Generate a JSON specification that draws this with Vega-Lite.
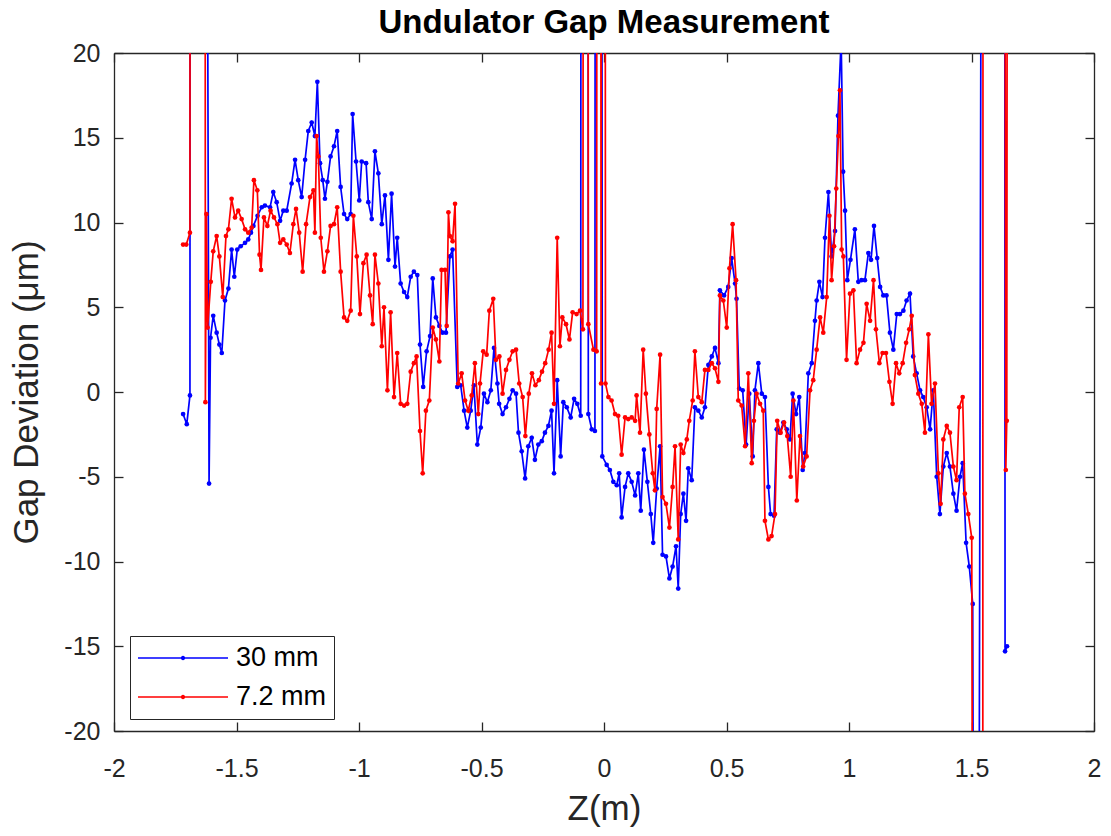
{
"$schema": "https://vega.github.io/schema/vega-lite/v6.json",
"width": 980, "height": 678,
"autosize": "none",
"padding": {"left": 114, "top": 53, "right": 17, "bottom": 105},
"background": "white",
"title": {"text": "Undulator Gap Measurement", "font": "Liberation Sans", "fontSize": 33, "fontWeight": "bold", "color": "#000000", "anchor": "middle", "offset": 1},
"config": {
  "view": {"stroke": null},
  "axis": {"grid": false, "domainColor": "#262626", "domainWidth": 1.3, "tickColor": "#262626", "tickWidth": 1.3, "tickSize": -9,
    "labelFont": "Liberation Sans", "labelFontSize": 25, "labelColor": "#262626", "titleFont": "Liberation Sans", "titleFontSize": 35, "titleFontWeight": "normal", "titleColor": "#262626"}
},
"data": {"values": [
{"s":"30 mm","z":-1.718,"g":-1.3},{"s":"30 mm","z":-1.703,"g":-1.9},{"s":"30 mm","z":-1.690,"g":-0.2},{"s":"30 mm","z":-1.688,"g":100},{"s":"30 mm","z":-1.633,"g":100},{"s":"30 mm","z":-1.612,"g":-5.4},{"s":"30 mm","z":-1.606,"g":3.2},{"s":"30 mm","z":-1.595,"g":4.5},{"s":"30 mm","z":-1.581,"g":3.5},{"s":"30 mm","z":-1.570,"g":2.8},{"s":"30 mm","z":-1.560,"g":2.3},{"s":"30 mm","z":-1.547,"g":5.4},{"s":"30 mm","z":-1.533,"g":6.1},{"s":"30 mm","z":-1.520,"g":8.4},{"s":"30 mm","z":-1.509,"g":6.8},{"s":"30 mm","z":-1.497,"g":8.4},{"s":"30 mm","z":-1.483,"g":8.6},{"s":"30 mm","z":-1.465,"g":8.8},{"s":"30 mm","z":-1.452,"g":9.0},{"s":"30 mm","z":-1.441,"g":9.4},{"s":"30 mm","z":-1.431,"g":9.8},{"s":"30 mm","z":-1.414,"g":10.4},{"s":"30 mm","z":-1.397,"g":10.9},{"s":"30 mm","z":-1.384,"g":11.0},{"s":"30 mm","z":-1.363,"g":10.9},{"s":"30 mm","z":-1.350,"g":11.8},{"s":"30 mm","z":-1.336,"g":11.2},{"s":"30 mm","z":-1.322,"g":10.1},{"s":"30 mm","z":-1.309,"g":10.7},{"s":"30 mm","z":-1.295,"g":10.7},{"s":"30 mm","z":-1.275,"g":12.3},{"s":"30 mm","z":-1.261,"g":13.7},{"s":"30 mm","z":-1.248,"g":12.5},{"s":"30 mm","z":-1.234,"g":11.5},{"s":"30 mm","z":-1.220,"g":13.7},{"s":"30 mm","z":-1.207,"g":15.4},{"s":"30 mm","z":-1.193,"g":15.9},{"s":"30 mm","z":-1.180,"g":15.1},{"s":"30 mm","z":-1.170,"g":18.3},{"s":"30 mm","z":-1.159,"g":13.5},{"s":"30 mm","z":-1.148,"g":12.5},{"s":"30 mm","z":-1.139,"g":11.4},{"s":"30 mm","z":-1.129,"g":12.4},{"s":"30 mm","z":-1.116,"g":13.9},{"s":"30 mm","z":-1.102,"g":14.5},{"s":"30 mm","z":-1.089,"g":15.4},{"s":"30 mm","z":-1.075,"g":12.1},{"s":"30 mm","z":-1.061,"g":10.5},{"s":"30 mm","z":-1.048,"g":10.2},{"s":"30 mm","z":-1.034,"g":10.5},{"s":"30 mm","z":-1.026,"g":16.4},{"s":"30 mm","z":-1.012,"g":13.6},{"s":"30 mm","z":-0.999,"g":11.3},{"s":"30 mm","z":-0.989,"g":13.6},{"s":"30 mm","z":-0.971,"g":13.5},{"s":"30 mm","z":-0.962,"g":11.2},{"s":"30 mm","z":-0.948,"g":10.2},{"s":"30 mm","z":-0.935,"g":14.2},{"s":"30 mm","z":-0.921,"g":12.9},{"s":"30 mm","z":-0.907,"g":9.9},{"s":"30 mm","z":-0.894,"g":11.6},{"s":"30 mm","z":-0.880,"g":7.8},{"s":"30 mm","z":-0.867,"g":11.7},{"s":"30 mm","z":-0.853,"g":7.4},{"s":"30 mm","z":-0.844,"g":9.1},{"s":"30 mm","z":-0.830,"g":6.4},{"s":"30 mm","z":-0.816,"g":5.9},{"s":"30 mm","z":-0.803,"g":5.6},{"s":"30 mm","z":-0.789,"g":6.8},{"s":"30 mm","z":-0.776,"g":7.1},{"s":"30 mm","z":-0.762,"g":6.9},{"s":"30 mm","z":-0.751,"g":2.8},{"s":"30 mm","z":-0.738,"g":0.3},{"s":"30 mm","z":-0.724,"g":2.4},{"s":"30 mm","z":-0.710,"g":3.3},{"s":"30 mm","z":-0.699,"g":6.7},{"s":"30 mm","z":-0.686,"g":4.4},{"s":"30 mm","z":-0.672,"g":3.9},{"s":"30 mm","z":-0.659,"g":3.5},{"s":"30 mm","z":-0.645,"g":3.5},{"s":"30 mm","z":-0.629,"g":8.0},{"s":"30 mm","z":-0.618,"g":8.4},{"s":"30 mm","z":-0.599,"g":0.3},{"s":"30 mm","z":-0.585,"g":0.4},{"s":"30 mm","z":-0.571,"g":-1.1},{"s":"30 mm","z":-0.558,"g":-2.1},{"s":"30 mm","z":-0.544,"g":-1.1},{"s":"30 mm","z":-0.531,"g":0.4},{"s":"30 mm","z":-0.517,"g":-3.1},{"s":"30 mm","z":-0.503,"g":-2.1},{"s":"30 mm","z":-0.490,"g":-0.1},{"s":"30 mm","z":-0.476,"g":-0.6},{"s":"30 mm","z":-0.462,"g":0.1},{"s":"30 mm","z":-0.449,"g":2.6},{"s":"30 mm","z":-0.435,"g":0.5},{"s":"30 mm","z":-0.428,"g":-0.7},{"s":"30 mm","z":-0.414,"g":-1.3},{"s":"30 mm","z":-0.400,"g":-0.9},{"s":"30 mm","z":-0.386,"g":-0.4},{"s":"30 mm","z":-0.373,"g":0.1},{"s":"30 mm","z":-0.359,"g":-0.1},{"s":"30 mm","z":-0.349,"g":-2.4},{"s":"30 mm","z":-0.336,"g":-3.5},{"s":"30 mm","z":-0.322,"g":-5.1},{"s":"30 mm","z":-0.309,"g":-3.2},{"s":"30 mm","z":-0.295,"g":-2.7},{"s":"30 mm","z":-0.282,"g":-4.0},{"s":"30 mm","z":-0.268,"g":-3.1},{"s":"30 mm","z":-0.254,"g":-2.9},{"s":"30 mm","z":-0.241,"g":-2.4},{"s":"30 mm","z":-0.227,"g":-2.0},{"s":"30 mm","z":-0.214,"g":-1.1},{"s":"30 mm","z":-0.204,"g":-4.8},{"s":"30 mm","z":-0.191,"g":0.7},{"s":"30 mm","z":-0.177,"g":-3.8},{"s":"30 mm","z":-0.166,"g":-0.6},{"s":"30 mm","z":-0.152,"g":-0.9},{"s":"30 mm","z":-0.136,"g":-1.5},{"s":"30 mm","z":-0.122,"g":-0.4},{"s":"30 mm","z":-0.109,"g":-0.7},{"s":"30 mm","z":-0.095,"g":-1.4},{"s":"30 mm","z":-0.092,"g":100},{"s":"30 mm","z":-0.067,"g":100},{"s":"30 mm","z":-0.064,"g":-1.3},{"s":"30 mm","z":-0.050,"g":-2.2},{"s":"30 mm","z":-0.037,"g":-2.3},{"s":"30 mm","z":-0.034,"g":100},{"s":"30 mm","z":-0.012,"g":100},{"s":"30 mm","z":-0.007,"g":-3.8},{"s":"30 mm","z":0.011,"g":-4.3},{"s":"30 mm","z":0.024,"g":-4.6},{"s":"30 mm","z":0.038,"g":-5.3},{"s":"30 mm","z":0.052,"g":-5.5},{"s":"30 mm","z":0.062,"g":-4.8},{"s":"30 mm","z":0.072,"g":-7.4},{"s":"30 mm","z":0.086,"g":-5.6},{"s":"30 mm","z":0.099,"g":-4.8},{"s":"30 mm","z":0.113,"g":-5.3},{"s":"30 mm","z":0.127,"g":-6.1},{"s":"30 mm","z":0.140,"g":-4.8},{"s":"30 mm","z":0.150,"g":-7.0},{"s":"30 mm","z":0.163,"g":-3.4},{"s":"30 mm","z":0.177,"g":-5.3},{"s":"30 mm","z":0.191,"g":-7.2},{"s":"30 mm","z":0.201,"g":-8.9},{"s":"30 mm","z":0.215,"g":-5.7},{"s":"30 mm","z":0.229,"g":-3.2},{"s":"30 mm","z":0.239,"g":-9.6},{"s":"30 mm","z":0.253,"g":-9.7},{"s":"30 mm","z":0.267,"g":-11.0},{"s":"30 mm","z":0.280,"g":-10.3},{"s":"30 mm","z":0.294,"g":-9.1},{"s":"30 mm","z":0.303,"g":-11.6},{"s":"30 mm","z":0.313,"g":-7.2},{"s":"30 mm","z":0.324,"g":-6.0},{"s":"30 mm","z":0.335,"g":-7.6},{"s":"30 mm","z":0.344,"g":-4.5},{"s":"30 mm","z":0.358,"g":-5.2},{"s":"30 mm","z":0.371,"g":-0.9},{"s":"30 mm","z":0.385,"g":-1.1},{"s":"30 mm","z":0.399,"g":-1.5},{"s":"30 mm","z":0.412,"g":-0.9},{"s":"30 mm","z":0.426,"g":1.6},{"s":"30 mm","z":0.440,"g":2.1},{"s":"30 mm","z":0.453,"g":2.6},{"s":"30 mm","z":0.467,"g":1.7},{"s":"30 mm","z":0.473,"g":6.0},{"s":"30 mm","z":0.490,"g":5.7},{"s":"30 mm","z":0.507,"g":6.2},{"s":"30 mm","z":0.521,"g":7.9},{"s":"30 mm","z":0.535,"g":6.4},{"s":"30 mm","z":0.541,"g":5.5},{"s":"30 mm","z":0.552,"g":0.2},{"s":"30 mm","z":0.566,"g":0.1},{"s":"30 mm","z":0.580,"g":-3.1},{"s":"30 mm","z":0.593,"g":-0.1},{"s":"30 mm","z":0.607,"g":-3.8},{"s":"30 mm","z":0.616,"g":0.1},{"s":"30 mm","z":0.630,"g":1.7},{"s":"30 mm","z":0.644,"g":-0.1},{"s":"30 mm","z":0.657,"g":-0.3},{"s":"30 mm","z":0.671,"g":-5.6},{"s":"30 mm","z":0.680,"g":-7.2},{"s":"30 mm","z":0.694,"g":-7.3},{"s":"30 mm","z":0.705,"g":-2.2},{"s":"30 mm","z":0.718,"g":-2.4},{"s":"30 mm","z":0.732,"g":-1.8},{"s":"30 mm","z":0.746,"g":-2.2},{"s":"30 mm","z":0.759,"g":-2.8},{"s":"30 mm","z":0.770,"g":-0.1},{"s":"30 mm","z":0.784,"g":-1.3},{"s":"30 mm","z":0.797,"g":-0.3},{"s":"30 mm","z":0.811,"g":-4.6},{"s":"30 mm","z":0.820,"g":-3.6},{"s":"30 mm","z":0.834,"g":1.1},{"s":"30 mm","z":0.848,"g":1.7},{"s":"30 mm","z":0.861,"g":4.2},{"s":"30 mm","z":0.868,"g":5.4},{"s":"30 mm","z":0.879,"g":6.5},{"s":"30 mm","z":0.892,"g":5.6},{"s":"30 mm","z":0.902,"g":9.1},{"s":"30 mm","z":0.916,"g":11.8},{"s":"30 mm","z":0.929,"g":8.0},{"s":"30 mm","z":0.943,"g":9.5},{"s":"30 mm","z":0.955,"g":16.3},{"s":"30 mm","z":0.968,"g":20.8},{"s":"30 mm","z":0.976,"g":13.0},{"s":"30 mm","z":0.984,"g":10.7},{"s":"30 mm","z":0.993,"g":6.6},{"s":"30 mm","z":1.006,"g":7.8},{"s":"30 mm","z":1.024,"g":9.6},{"s":"30 mm","z":1.038,"g":6.5},{"s":"30 mm","z":1.051,"g":6.6},{"s":"30 mm","z":1.065,"g":6.6},{"s":"30 mm","z":1.079,"g":8.2},{"s":"30 mm","z":1.090,"g":7.8},{"s":"30 mm","z":1.102,"g":9.8},{"s":"30 mm","z":1.115,"g":7.9},{"s":"30 mm","z":1.127,"g":6.2},{"s":"30 mm","z":1.140,"g":5.7},{"s":"30 mm","z":1.153,"g":5.7},{"s":"30 mm","z":1.167,"g":3.5},{"s":"30 mm","z":1.181,"g":2.5},{"s":"30 mm","z":1.195,"g":4.6},{"s":"30 mm","z":1.208,"g":4.6},{"s":"30 mm","z":1.222,"g":4.8},{"s":"30 mm","z":1.235,"g":5.4},{"s":"30 mm","z":1.249,"g":5.8},{"s":"30 mm","z":1.262,"g":2.1},{"s":"30 mm","z":1.276,"g":1.1},{"s":"30 mm","z":1.290,"g":0.1},{"s":"30 mm","z":1.303,"g":-0.3},{"s":"30 mm","z":1.317,"g":-0.9},{"s":"30 mm","z":1.331,"g":-2.2},{"s":"30 mm","z":1.344,"g":0.1},{"s":"30 mm","z":1.358,"g":-5.0},{"s":"30 mm","z":1.371,"g":-7.2},{"s":"30 mm","z":1.385,"g":-4.4},{"s":"30 mm","z":1.399,"g":-3.6},{"s":"30 mm","z":1.412,"g":-4.4},{"s":"30 mm","z":1.426,"g":-6.0},{"s":"30 mm","z":1.439,"g":-7.0},{"s":"30 mm","z":1.453,"g":-5.0},{"s":"30 mm","z":1.464,"g":-4.2},{"s":"30 mm","z":1.478,"g":-8.9},{"s":"30 mm","z":1.491,"g":-10.3},{"s":"30 mm","z":1.505,"g":-12.5},{"s":"30 mm","z":1.520,"g":-100},{"s":"30 mm","z":1.550,"g":100},{"s":"30 mm","z":1.634,"g":100},{"s":"30 mm","z":1.637,"g":-15.3},{"s":"30 mm","z":1.645,"g":-15.0},
{"s":"7.2 mm","z":-1.718,"g":8.7},{"s":"7.2 mm","z":-1.705,"g":8.7},{"s":"7.2 mm","z":-1.690,"g":9.4},{"s":"7.2 mm","z":-1.688,"g":100},{"s":"7.2 mm","z":-1.630,"g":100},{"s":"7.2 mm","z":-1.627,"g":-0.6},{"s":"7.2 mm","z":-1.623,"g":10.5},{"s":"7.2 mm","z":-1.618,"g":3.8},{"s":"7.2 mm","z":-1.605,"g":6.5},{"s":"7.2 mm","z":-1.595,"g":8.3},{"s":"7.2 mm","z":-1.581,"g":9.2},{"s":"7.2 mm","z":-1.570,"g":8.0},{"s":"7.2 mm","z":-1.556,"g":5.6},{"s":"7.2 mm","z":-1.543,"g":9.2},{"s":"7.2 mm","z":-1.533,"g":9.6},{"s":"7.2 mm","z":-1.520,"g":11.4},{"s":"7.2 mm","z":-1.506,"g":10.3},{"s":"7.2 mm","z":-1.493,"g":10.7},{"s":"7.2 mm","z":-1.479,"g":10.2},{"s":"7.2 mm","z":-1.465,"g":9.6},{"s":"7.2 mm","z":-1.452,"g":9.4},{"s":"7.2 mm","z":-1.438,"g":9.7},{"s":"7.2 mm","z":-1.429,"g":12.5},{"s":"7.2 mm","z":-1.415,"g":11.9},{"s":"7.2 mm","z":-1.406,"g":8.1},{"s":"7.2 mm","z":-1.400,"g":7.2},{"s":"7.2 mm","z":-1.388,"g":10.3},{"s":"7.2 mm","z":-1.374,"g":9.8},{"s":"7.2 mm","z":-1.361,"g":10.7},{"s":"7.2 mm","z":-1.347,"g":10.3},{"s":"7.2 mm","z":-1.333,"g":9.9},{"s":"7.2 mm","z":-1.322,"g":8.8},{"s":"7.2 mm","z":-1.309,"g":9.0},{"s":"7.2 mm","z":-1.295,"g":8.7},{"s":"7.2 mm","z":-1.282,"g":8.2},{"s":"7.2 mm","z":-1.268,"g":9.9},{"s":"7.2 mm","z":-1.257,"g":10.8},{"s":"7.2 mm","z":-1.244,"g":9.4},{"s":"7.2 mm","z":-1.230,"g":7.1},{"s":"7.2 mm","z":-1.216,"g":9.9},{"s":"7.2 mm","z":-1.200,"g":11.5},{"s":"7.2 mm","z":-1.186,"g":11.9},{"s":"7.2 mm","z":-1.180,"g":9.4},{"s":"7.2 mm","z":-1.173,"g":15.1},{"s":"7.2 mm","z":-1.166,"g":13.9},{"s":"7.2 mm","z":-1.156,"g":9.1},{"s":"7.2 mm","z":-1.143,"g":7.1},{"s":"7.2 mm","z":-1.129,"g":8.3},{"s":"7.2 mm","z":-1.116,"g":9.8},{"s":"7.2 mm","z":-1.102,"g":9.9},{"s":"7.2 mm","z":-1.089,"g":10.9},{"s":"7.2 mm","z":-1.075,"g":7.1},{"s":"7.2 mm","z":-1.061,"g":4.4},{"s":"7.2 mm","z":-1.048,"g":4.2},{"s":"7.2 mm","z":-1.034,"g":4.8},{"s":"7.2 mm","z":-1.023,"g":10.4},{"s":"7.2 mm","z":-1.009,"g":8.0},{"s":"7.2 mm","z":-0.996,"g":4.6},{"s":"7.2 mm","z":-0.982,"g":7.6},{"s":"7.2 mm","z":-0.969,"g":8.1},{"s":"7.2 mm","z":-0.955,"g":5.7},{"s":"7.2 mm","z":-0.944,"g":4.0},{"s":"7.2 mm","z":-0.935,"g":8.1},{"s":"7.2 mm","z":-0.921,"g":6.4},{"s":"7.2 mm","z":-0.907,"g":2.7},{"s":"7.2 mm","z":-0.898,"g":5.0},{"s":"7.2 mm","z":-0.884,"g":0.1},{"s":"7.2 mm","z":-0.871,"g":4.7},{"s":"7.2 mm","z":-0.857,"g":-0.3},{"s":"7.2 mm","z":-0.844,"g":2.3},{"s":"7.2 mm","z":-0.830,"g":-0.7},{"s":"7.2 mm","z":-0.816,"g":-0.8},{"s":"7.2 mm","z":-0.803,"g":-0.7},{"s":"7.2 mm","z":-0.789,"g":1.2},{"s":"7.2 mm","z":-0.776,"g":1.7},{"s":"7.2 mm","z":-0.765,"g":2.1},{"s":"7.2 mm","z":-0.751,"g":-2.3},{"s":"7.2 mm","z":-0.740,"g":-4.8},{"s":"7.2 mm","z":-0.727,"g":-1.1},{"s":"7.2 mm","z":-0.713,"g":-0.5},{"s":"7.2 mm","z":-0.699,"g":3.8},{"s":"7.2 mm","z":-0.686,"g":3.1},{"s":"7.2 mm","z":-0.672,"g":1.8},{"s":"7.2 mm","z":-0.663,"g":7.2},{"s":"7.2 mm","z":-0.649,"g":7.2},{"s":"7.2 mm","z":-0.642,"g":3.9},{"s":"7.2 mm","z":-0.635,"g":10.6},{"s":"7.2 mm","z":-0.629,"g":9.2},{"s":"7.2 mm","z":-0.618,"g":8.9},{"s":"7.2 mm","z":-0.608,"g":11.1},{"s":"7.2 mm","z":-0.595,"g":0.5},{"s":"7.2 mm","z":-0.581,"g":1.1},{"s":"7.2 mm","z":-0.567,"g":-0.5},{"s":"7.2 mm","z":-0.554,"g":-1.1},{"s":"7.2 mm","z":-0.540,"g":-0.2},{"s":"7.2 mm","z":-0.527,"g":1.7},{"s":"7.2 mm","z":-0.513,"g":-1.3},{"s":"7.2 mm","z":-0.506,"g":0.5},{"s":"7.2 mm","z":-0.493,"g":2.4},{"s":"7.2 mm","z":-0.479,"g":2.2},{"s":"7.2 mm","z":-0.468,"g":4.8},{"s":"7.2 mm","z":-0.452,"g":5.5},{"s":"7.2 mm","z":-0.441,"g":1.9},{"s":"7.2 mm","z":-0.427,"g":2.1},{"s":"7.2 mm","z":-0.414,"g":-0.1},{"s":"7.2 mm","z":-0.400,"g":1.3},{"s":"7.2 mm","z":-0.386,"g":1.9},{"s":"7.2 mm","z":-0.373,"g":2.4},{"s":"7.2 mm","z":-0.359,"g":2.5},{"s":"7.2 mm","z":-0.346,"g":0.5},{"s":"7.2 mm","z":-0.332,"g":-0.3},{"s":"7.2 mm","z":-0.321,"g":-2.6},{"s":"7.2 mm","z":-0.307,"g":-0.1},{"s":"7.2 mm","z":-0.294,"g":1.1},{"s":"7.2 mm","z":-0.280,"g":0.4},{"s":"7.2 mm","z":-0.266,"g":0.7},{"s":"7.2 mm","z":-0.253,"g":1.2},{"s":"7.2 mm","z":-0.240,"g":1.7},{"s":"7.2 mm","z":-0.226,"g":2.5},{"s":"7.2 mm","z":-0.214,"g":3.5},{"s":"7.2 mm","z":-0.204,"g":-0.7},{"s":"7.2 mm","z":-0.191,"g":9.1},{"s":"7.2 mm","z":-0.180,"g":2.7},{"s":"7.2 mm","z":-0.170,"g":4.4},{"s":"7.2 mm","z":-0.155,"g":4.0},{"s":"7.2 mm","z":-0.141,"g":3.1},{"s":"7.2 mm","z":-0.128,"g":4.7},{"s":"7.2 mm","z":-0.112,"g":4.6},{"s":"7.2 mm","z":-0.098,"g":4.8},{"s":"7.2 mm","z":-0.086,"g":3.7},{"s":"7.2 mm","z":-0.082,"g":100},{"s":"7.2 mm","z":-0.067,"g":100},{"s":"7.2 mm","z":-0.064,"g":4.0},{"s":"7.2 mm","z":-0.043,"g":2.5},{"s":"7.2 mm","z":-0.030,"g":2.4},{"s":"7.2 mm","z":-0.027,"g":100},{"s":"7.2 mm","z":-0.015,"g":100},{"s":"7.2 mm","z":-0.012,"g":0.5},{"s":"7.2 mm","z":-0.008,"g":100},{"s":"7.2 mm","z":0.003,"g":100},{"s":"7.2 mm","z":0.006,"g":0.5},{"s":"7.2 mm","z":0.018,"g":-0.3},{"s":"7.2 mm","z":0.031,"g":-0.5},{"s":"7.2 mm","z":0.045,"g":-1.3},{"s":"7.2 mm","z":0.058,"g":-1.4},{"s":"7.2 mm","z":0.072,"g":-3.7},{"s":"7.2 mm","z":0.086,"g":-1.5},{"s":"7.2 mm","z":0.099,"g":-1.6},{"s":"7.2 mm","z":0.113,"g":-1.5},{"s":"7.2 mm","z":0.127,"g":-1.7},{"s":"7.2 mm","z":0.133,"g":-0.2},{"s":"7.2 mm","z":0.147,"g":-2.4},{"s":"7.2 mm","z":0.160,"g":2.5},{"s":"7.2 mm","z":0.171,"g":-0.1},{"s":"7.2 mm","z":0.185,"g":-2.5},{"s":"7.2 mm","z":0.199,"g":-4.8},{"s":"7.2 mm","z":0.208,"g":-5.8},{"s":"7.2 mm","z":0.215,"g":-1.0},{"s":"7.2 mm","z":0.229,"g":2.2},{"s":"7.2 mm","z":0.239,"g":-6.2},{"s":"7.2 mm","z":0.253,"g":-6.6},{"s":"7.2 mm","z":0.267,"g":-8.0},{"s":"7.2 mm","z":0.280,"g":-5.6},{"s":"7.2 mm","z":0.290,"g":-3.2},{"s":"7.2 mm","z":0.303,"g":-8.7},{"s":"7.2 mm","z":0.313,"g":-3.1},{"s":"7.2 mm","z":0.324,"g":-3.6},{"s":"7.2 mm","z":0.338,"g":-2.8},{"s":"7.2 mm","z":0.348,"g":-1.7},{"s":"7.2 mm","z":0.362,"g":-0.5},{"s":"7.2 mm","z":0.371,"g":2.4},{"s":"7.2 mm","z":0.385,"g":-0.3},{"s":"7.2 mm","z":0.399,"g":-0.6},{"s":"7.2 mm","z":0.412,"g":1.3},{"s":"7.2 mm","z":0.426,"g":1.3},{"s":"7.2 mm","z":0.440,"g":1.7},{"s":"7.2 mm","z":0.453,"g":1.4},{"s":"7.2 mm","z":0.467,"g":0.6},{"s":"7.2 mm","z":0.473,"g":5.7},{"s":"7.2 mm","z":0.487,"g":5.4},{"s":"7.2 mm","z":0.501,"g":3.8},{"s":"7.2 mm","z":0.512,"g":7.3},{"s":"7.2 mm","z":0.525,"g":9.9},{"s":"7.2 mm","z":0.539,"g":6.6},{"s":"7.2 mm","z":0.548,"g":-0.5},{"s":"7.2 mm","z":0.562,"g":-0.8},{"s":"7.2 mm","z":0.576,"g":-3.2},{"s":"7.2 mm","z":0.589,"g":1.1},{"s":"7.2 mm","z":0.603,"g":-4.2},{"s":"7.2 mm","z":0.612,"g":-1.7},{"s":"7.2 mm","z":0.623,"g":-0.1},{"s":"7.2 mm","z":0.637,"g":-0.7},{"s":"7.2 mm","z":0.650,"g":-1.1},{"s":"7.2 mm","z":0.657,"g":-7.6},{"s":"7.2 mm","z":0.671,"g":-8.7},{"s":"7.2 mm","z":0.684,"g":-8.5},{"s":"7.2 mm","z":0.698,"g":-7.2},{"s":"7.2 mm","z":0.707,"g":-1.7},{"s":"7.2 mm","z":0.721,"g":-2.4},{"s":"7.2 mm","z":0.735,"g":-1.8},{"s":"7.2 mm","z":0.748,"g":-2.6},{"s":"7.2 mm","z":0.762,"g":-5.0},{"s":"7.2 mm","z":0.773,"g":-0.5},{"s":"7.2 mm","z":0.787,"g":-6.4},{"s":"7.2 mm","z":0.800,"g":-2.6},{"s":"7.2 mm","z":0.813,"g":-4.4},{"s":"7.2 mm","z":0.827,"g":-3.8},{"s":"7.2 mm","z":0.841,"g":0.1},{"s":"7.2 mm","z":0.854,"g":0.7},{"s":"7.2 mm","z":0.868,"g":2.5},{"s":"7.2 mm","z":0.882,"g":4.4},{"s":"7.2 mm","z":0.895,"g":3.5},{"s":"7.2 mm","z":0.909,"g":5.6},{"s":"7.2 mm","z":0.920,"g":10.4},{"s":"7.2 mm","z":0.929,"g":6.6},{"s":"7.2 mm","z":0.939,"g":8.6},{"s":"7.2 mm","z":0.948,"g":12.0},{"s":"7.2 mm","z":0.957,"g":15.1},{"s":"7.2 mm","z":0.963,"g":17.8},{"s":"7.2 mm","z":0.970,"g":8.4},{"s":"7.2 mm","z":0.977,"g":8.0},{"s":"7.2 mm","z":0.990,"g":1.9},{"s":"7.2 mm","z":1.004,"g":5.8},{"s":"7.2 mm","z":1.018,"g":6.0},{"s":"7.2 mm","z":1.031,"g":1.7},{"s":"7.2 mm","z":1.045,"g":2.5},{"s":"7.2 mm","z":1.059,"g":2.9},{"s":"7.2 mm","z":1.072,"g":5.2},{"s":"7.2 mm","z":1.086,"g":4.2},{"s":"7.2 mm","z":1.100,"g":6.6},{"s":"7.2 mm","z":1.110,"g":3.7},{"s":"7.2 mm","z":1.124,"g":1.7},{"s":"7.2 mm","z":1.137,"g":2.3},{"s":"7.2 mm","z":1.151,"g":2.3},{"s":"7.2 mm","z":1.165,"g":0.6},{"s":"7.2 mm","z":1.178,"g":-0.7},{"s":"7.2 mm","z":1.192,"g":1.7},{"s":"7.2 mm","z":1.205,"g":1.1},{"s":"7.2 mm","z":1.219,"g":1.7},{"s":"7.2 mm","z":1.233,"g":2.9},{"s":"7.2 mm","z":1.246,"g":3.7},{"s":"7.2 mm","z":1.256,"g":4.5},{"s":"7.2 mm","z":1.269,"g":1.0},{"s":"7.2 mm","z":1.283,"g":-0.1},{"s":"7.2 mm","z":1.297,"g":-0.7},{"s":"7.2 mm","z":1.310,"g":-2.4},{"s":"7.2 mm","z":1.324,"g":3.4},{"s":"7.2 mm","z":1.337,"g":-0.7},{"s":"7.2 mm","z":1.351,"g":0.5},{"s":"7.2 mm","z":1.365,"g":-4.8},{"s":"7.2 mm","z":1.374,"g":-6.6},{"s":"7.2 mm","z":1.385,"g":-2.8},{"s":"7.2 mm","z":1.399,"g":-2.0},{"s":"7.2 mm","z":1.412,"g":-2.4},{"s":"7.2 mm","z":1.426,"g":-4.4},{"s":"7.2 mm","z":1.439,"g":-5.2},{"s":"7.2 mm","z":1.450,"g":-0.9},{"s":"7.2 mm","z":1.464,"g":-0.3},{"s":"7.2 mm","z":1.473,"g":-6.0},{"s":"7.2 mm","z":1.487,"g":-7.2},{"s":"7.2 mm","z":1.501,"g":-8.6},{"s":"7.2 mm","z":1.515,"g":-100},{"s":"7.2 mm","z":1.545,"g":-100},{"s":"7.2 mm","z":1.548,"g":100},{"s":"7.2 mm","z":1.630,"g":100},{"s":"7.2 mm","z":1.640,"g":-4.6},{"s":"7.2 mm","z":1.644,"g":-1.7},{"s":"7.2 mm","z":1.650,"g":100}
]},
"layer": [
 {"transform": [{"filter": "datum.s === '30 mm'"}],
  "mark": {"type": "line", "clip": true, "strokeWidth": 1.7},
  "encoding": {
   "x": {"field": "z", "type": "quantitative", "scale": {"domain": [-2, 2], "nice": false, "zero": false},
     "axis": {"orient": "bottom", "title": "Z(m)", "values": [-2,-1.5,-1,-0.5,0,0.5,1,1.5,2], "labelExpr": "'' + datum.value", "labelPadding": 34, "titlePadding": 10, "labelFlush": false}},
   "y": {"field": "g", "type": "quantitative", "scale": {"domain": [-20, 20], "nice": false, "zero": false},
     "axis": {"orient": "left", "title": "Gap Deviation (μm)", "values": [-20,-15,-10,-5,0,5,10,15,20], "labelExpr": "'' + datum.value", "labelPadding": 23, "titlePadding": 19, "labelFlush": false}},
   "color": {"field": "s", "type": "nominal", "scale": {"domain": ["30 mm", "7.2 mm"], "range": ["#0000ff", "#ff0000"]},
     "legend": {"title": null, "orient": "none", "legendX": 16, "legendY": 583,
       "symbolType": "M-1,0H1M-0.033,0a0.033,0.033 0 1,0 0.066,0a0.033,0.033 0 1,0 -0.066,0",
       "symbolSize": 8100, "symbolStrokeWidth": 1.5, "labelFont": "Liberation Sans", "labelFontSize": 27, "labelColor": "#000000",
       "fillColor": "white", "strokeColor": "#262626", "padding": 7, "rowPadding": 9, "clipHeight": 30, "labelOffset": 7}}
  }},
 {"transform": [{"filter": "datum.s === '30 mm'"}],
  "mark": {"type": "point", "clip": true, "filled": true, "size": 22, "opacity": 1},
  "encoding": {
   "x": {"field": "z", "type": "quantitative", "axis": null},
   "y": {"field": "g", "type": "quantitative", "axis": null},
   "color": {"field": "s", "type": "nominal"}
  }},
 {"transform": [{"filter": "datum.s === '7.2 mm'"}],
  "mark": {"type": "line", "clip": true, "strokeWidth": 1.7},
  "encoding": {
   "x": {"field": "z", "type": "quantitative", "axis": {"orient": "top", "title": null, "labels": false, "values": [-2,-1.5,-1,-0.5,0,0.5,1,1.5,2]}},
   "y": {"field": "g", "type": "quantitative", "axis": {"orient": "right", "title": null, "labels": false, "values": [-20,-15,-10,-5,0,5,10,15,20]}},
   "color": {"field": "s", "type": "nominal"}
  }},
 {"transform": [{"filter": "datum.s === '7.2 mm'"}],
  "mark": {"type": "point", "clip": true, "filled": true, "size": 22, "opacity": 1},
  "encoding": {
   "x": {"field": "z", "type": "quantitative", "axis": null},
   "y": {"field": "g", "type": "quantitative", "axis": null},
   "color": {"field": "s", "type": "nominal"}
  }}
],
"resolve": {"axis": {"x": "independent", "y": "independent"}}
}
